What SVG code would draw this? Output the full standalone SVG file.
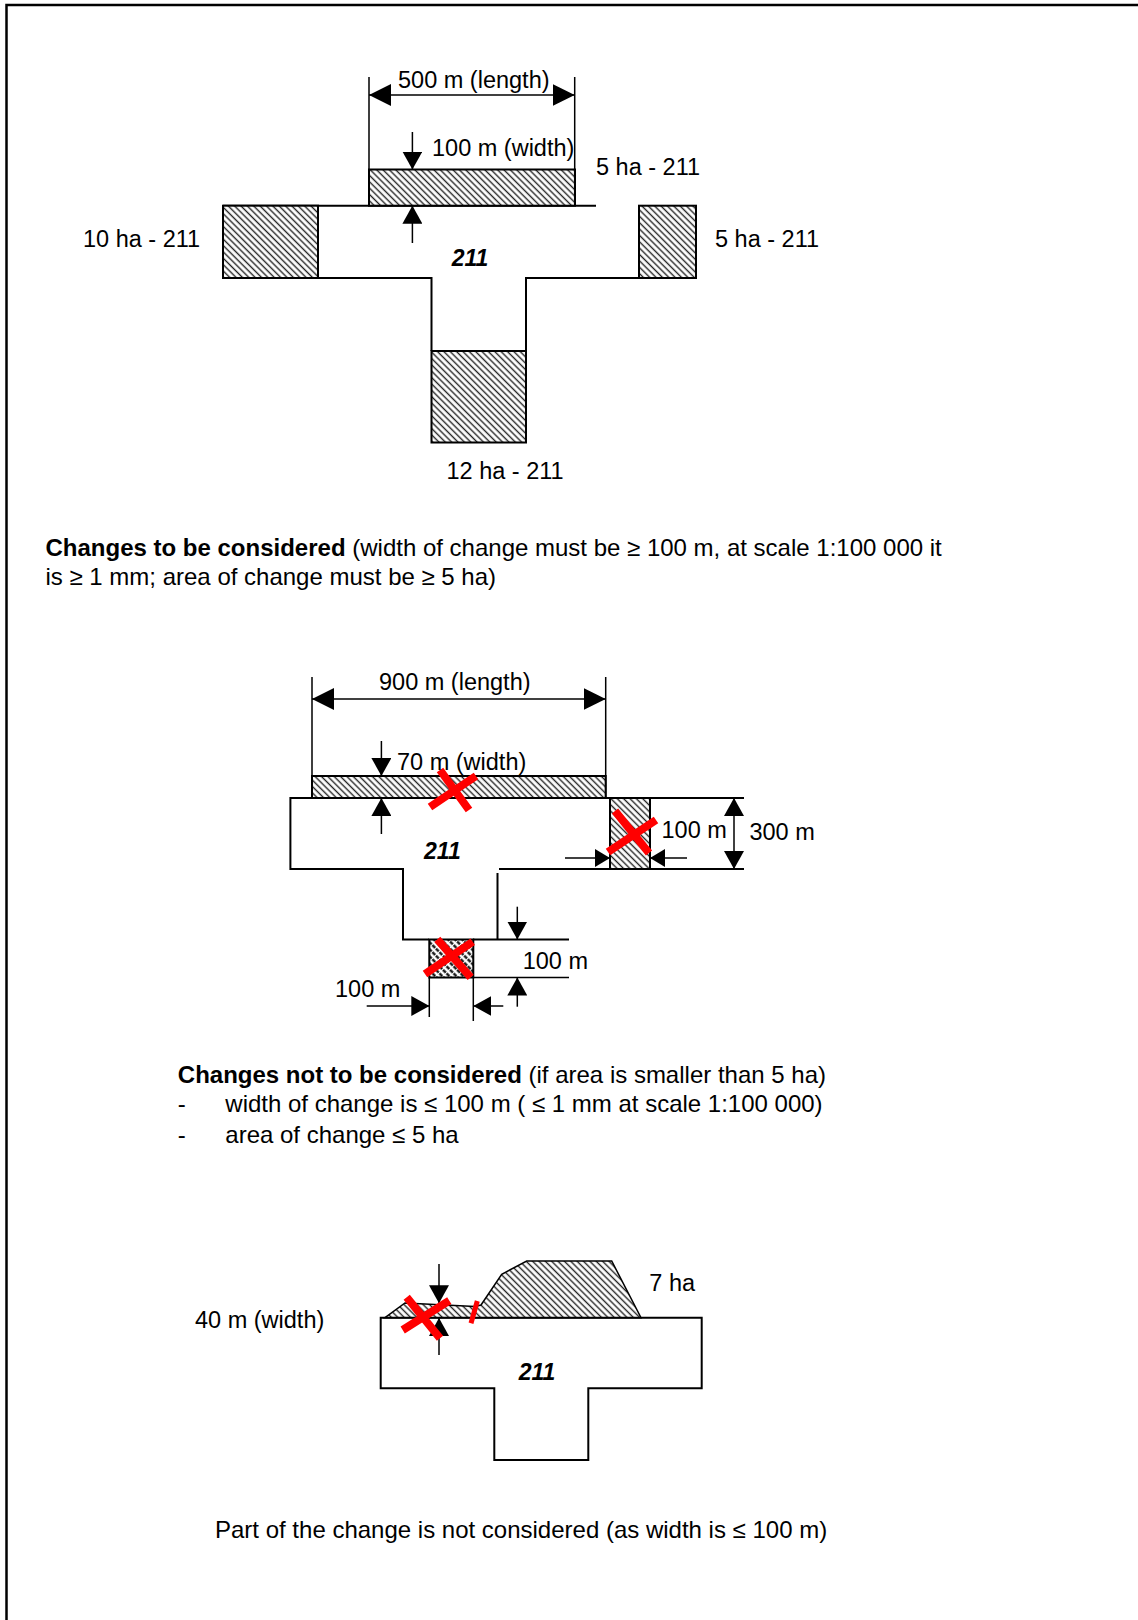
<svg xmlns="http://www.w3.org/2000/svg" width="1138" height="1620" viewBox="0 0 1138 1620">
<style>
text{font-family:"Liberation Sans",Arial,sans-serif;font-size:23.5px;fill:#000}
.p{font-size:24px}
.b{font-weight:bold}
.lbl{font-weight:bold;font-style:italic;font-size:23px}
.ol{fill:none;stroke:#000;stroke-width:2}
.hb{fill:url(#hatch);stroke:#000;stroke-width:2}
.hs{fill:url(#hatch2);stroke:#000;stroke-width:2}
.dim{fill:none;stroke:#000;stroke-width:1.5}
.ar{fill:none;stroke:#000;stroke-width:1.5;marker-end:url(#ah)}
.arS{fill:none;stroke:#000;stroke-width:1.5;marker-end:url(#ahs)}
.arL{fill:none;stroke:#000;stroke-width:1.5;marker-start:url(#ahl);marker-end:url(#ahl)}
.ar2{fill:none;stroke:#000;stroke-width:1.5;marker-start:url(#ah);marker-end:url(#ah)}
.x{stroke:#ff0000;stroke-width:8;fill:none}
</style>
<defs>
<pattern id="hatch" width="4.5" height="4.5" patternUnits="userSpaceOnUse" patternTransform="rotate(-45)">
<rect width="4.5" height="4.5" fill="#fff"/>
<line x1="2.25" y1="0" x2="2.25" y2="4.5" stroke="#222" stroke-width="1.4"/>
</pattern>
<pattern id="hatch2" width="5" height="5" patternUnits="userSpaceOnUse" patternTransform="rotate(-45)">
<rect width="5" height="5" fill="#fff"/>
<line x1="2.5" y1="0" x2="2.5" y2="5" stroke="#000" stroke-width="2.2" stroke-dasharray="3 1"/>
</pattern>
<marker id="ah" viewBox="0 0 18 20" refX="18" refY="10" markerWidth="18" markerHeight="20" markerUnits="userSpaceOnUse" orient="auto-start-reverse"><path d="M0,0 L18,10 L0,20 Z" fill="#000"/></marker>
<marker id="ahs" viewBox="0 0 15 18" refX="15" refY="9" markerWidth="15" markerHeight="18" markerUnits="userSpaceOnUse" orient="auto-start-reverse"><path d="M0,0 L15,9 L0,18 Z" fill="#000"/></marker>
<marker id="ahl" viewBox="0 0 22 22" refX="22" refY="11" markerWidth="22" markerHeight="22" markerUnits="userSpaceOnUse" orient="auto-start-reverse"><path d="M0,0 L22,11 L0,22 Z" fill="#000"/></marker>
</defs>
<rect width="1138" height="1620" fill="#fff"/>
<g id="frame"><path d="M6.5,1620 V5 H1138" fill="none" stroke="#000" stroke-width="2.5"/></g>

<!-- TOP DIAGRAM -->
<g id="top-body"><path class="ol" d="M223,205.7 H596 M318,278 H431.5 V351 M526,351 V278 H639"/></g>
<g id="top-hatch-top"><rect class="hb" x="369" y="169.5" width="206" height="36.2"/></g>
<g id="top-hatch-left"><rect class="hb" x="223" y="205.7" width="95" height="72.3"/></g>
<g id="top-hatch-right"><rect class="hb" x="639" y="205.7" width="57" height="72.3"/></g>
<g id="top-hatch-bottom"><rect class="hb" x="431.5" y="351" width="94.5" height="91.5"/></g>
<g id="top-connectors">
<path class="dim" d="M369,77 V169.5 M574.7,77 V205.7"/>
<path class="arL" d="M369,95 H574.7"/>
<path class="ar" d="M412.4,132 V169.5"/>
<path class="ar" d="M412.4,243 V205.7"/>
</g>
<g id="top-labels">
<text x="398" y="88">500 m (length)</text>
<text x="432" y="156">100 m (width)</text>
<text x="596" y="175">5 ha - 211</text>
<text x="83" y="247">10 ha - 211</text>
<text x="715" y="247">5 ha - 211</text>
<text class="lbl" x="470" y="266" text-anchor="middle">211</text>
<text x="446.5" y="479">12 ha - 211</text>
</g>

<g id="text-considered">
<text class="p" x="45.5" y="556"><tspan class="b">Changes to be considered</tspan> (width of change must be ≥ 100 m, at scale 1:100 000 it</text>
<text class="p" x="45.5" y="585">is ≥ 1 mm; area of change must be ≥ 5 ha)</text>
</g>

<!-- MIDDLE DIAGRAM -->
<g id="mid-body"><path class="ol" d="M744,798 H290.4 V869 H403 V939.5 H429 M473,939.5 H569 M497.5,873 V939.5 M499,869 H744"/></g>
<g id="mid-hatch-top"><rect class="hb" x="312" y="776" width="293.7" height="22"/></g>
<g id="mid-hatch-right"><rect class="hb" x="610" y="798" width="40" height="71"/></g>
<g id="mid-hatch-small"><rect class="hs" x="429.3" y="939.5" width="44" height="38"/></g>
<g id="mid-connectors">
<path class="dim" d="M312,677 V776 M605.7,677 V798"/>
<path class="arL" d="M312,699 H605.7"/>
<path class="ar" d="M381.4,741 V776"/>
<path class="ar" d="M381.4,834 V798"/>
<path class="arS" d="M565,858 H610"/>
<path class="arS" d="M687,858 H650"/>
<path class="ar2" d="M734,798 V869"/>
<path class="dim" d="M429.3,977.5 V1017 M473.3,977.5 V1021 M473.3,977.5 H569"/>
<path class="ar" d="M366.7,1006 H429.3"/>
<path class="ar" d="M503.3,1006 H473.3"/>
<path class="ar" d="M517.3,906.7 V939.5"/>
<path class="ar" d="M517.3,1006.7 V977.5"/>
</g>
<g id="mid-marks">
<path class="x" d="M430,807 L476,776 M440,770 L469,810"/>
<path class="x" d="M608,852 L656,820 M615,811 L649,853"/>
<path class="x" d="M425,974 L472.7,941.7 M437.3,939.3 L470.7,977.3"/>
</g>
<g id="mid-labels">
<text x="379" y="690">900 m (length)</text>
<text x="397" y="770">70 m (width)</text>
<text class="lbl" x="442.4" y="859" text-anchor="middle">211</text>
<text x="661.5" y="838">100 m</text>
<text x="749.4" y="840">300 m</text>
<text x="522.7" y="969">100 m</text>
<text x="335" y="997">100 m</text>
</g>

<g id="text-not-considered">
<text class="p" x="177.8" y="1083"><tspan class="b">Changes not to be considered</tspan> (if area is smaller than 5 ha)</text>
<text class="p" x="177.8" y="1112">-</text>
<text class="p" x="225.3" y="1112">width of change is ≤ 100 m ( ≤ 1 mm at scale 1:100 000)</text>
<text class="p" x="177.8" y="1143">-</text>
<text class="p" x="225.3" y="1143">area of change ≤ 5 ha</text>
</g>

<!-- BOTTOM DIAGRAM -->
<g id="bot-hatch"><path d="M385,1317.7 L405,1303 L475,1306.5 L481,1305 L501.7,1274.3 L526.7,1261 L611.7,1261 L641,1317.7 Z" fill="url(#hatch)" stroke="#000" stroke-width="1.5"/></g>
<g id="bot-body"><path class="ol" d="M380.7,1317.7 H701.7 V1388.3 H588.3 V1460 H494.3 V1388.3 H380.7 Z"/></g>
<g id="bot-connectors">
<path class="ar" d="M439,1264 V1303.3"/>
<path class="ar" d="M439,1355 V1318"/>
</g>
<g id="bot-marks">
<path class="x" d="M402.7,1330 L449.3,1300.7 M406.7,1297.3 L440,1338.3"/>
<path class="x" style="stroke-width:5" d="M471,1323.3 L477.3,1301"/>
</g>
<g id="bot-labels">
<text x="195" y="1328">40 m (width)</text>
<text x="649.3" y="1291">7 ha</text>
<text class="lbl" x="537" y="1380" text-anchor="middle">211</text>
</g>

<g id="text-part"><text class="p" x="215" y="1538">Part of the change is not considered (as width is ≤ 100 m)</text></g>
</svg>
